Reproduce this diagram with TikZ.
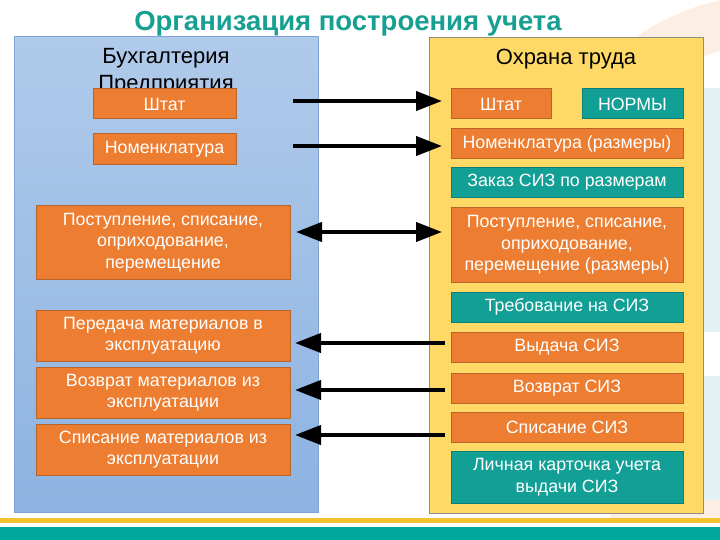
\documentclass[tikz,border=0pt]{standalone}
\usepackage{fontspec}
\setmainfont{Liberation Sans}
\usetikzlibrary{arrows.meta}
\definecolor{boxor}{HTML}{ED7D31}
\definecolor{boxorb}{HTML}{B8652B}
\definecolor{boxte}{HTML}{12A096}
\definecolor{boxteb}{HTML}{0E7F78}
\definecolor{titlete}{HTML}{17A092}
\definecolor{bluetop}{HTML}{B0CAEA}
\definecolor{bluebot}{HTML}{8DB3E2}
\definecolor{blueb}{HTML}{7FA3D3}
\definecolor{yell}{HTML}{FFD966}
\definecolor{yellb}{HTML}{8E8E82}
\definecolor{band}{HTML}{00A79D}
\definecolor{bandy}{HTML}{F2C230}
\definecolor{peach}{HTML}{FCEEE2}
\definecolor{lcyan}{HTML}{E2F2F4}
\tikzset{
  box/.style={draw, line width=1pt, text=white, align=center, inner sep=0pt,
    font=\fontsize{17.8}{21.5}\selectfont},
  obox/.style={box, fill=boxor, draw=boxorb},
  tbox/.style={box, fill=boxte, draw=boxteb},
  arr/.style={line width=4pt, -{Triangle[length=26pt,width=19pt]}},
  darr/.style={line width=4pt, {Triangle[length=26pt,width=19pt]}-{Triangle[length=26pt,width=19pt]}},
  ptitle/.style={font=\fontsize{22}{27}\selectfont, align=center, inner sep=0pt}
}
\begin{document}
\begin{tikzpicture}[x=1pt,y=-1pt]
\useasboundingbox (0,0) rectangle (720,540);
\fill[white] (0,0) rectangle (720,540);
% background decorations
\begin{scope}
\clip (0,0) rectangle (720,540);
\fill[peach, even odd rule] (770,230) circle[radius=235] (770,250) circle[radius=205];
\fill[lcyan] (690,88) rectangle (720,332);
\fill[lcyan] (690,376) rectangle (720,505);
\fill[peach] (610,500) rectangle (720,518);
\end{scope}
% bottom bands
\fill[bandy] (0,518) rectangle (720,523);
\fill[band] (0,527) rectangle (720,540);
% title
\node[font=\fontsize{27.5}{32}\selectfont\bfseries, text=titlete, inner sep=0pt] (title) at (348,24) {Организация построения учета};
% panels
\node[draw=blueb, line width=1pt, top color=bluetop, bottom color=bluebot, minimum width=304pt, minimum height=475pt, inner sep=0pt] (lp) at (166,274.5) {};
\node[draw=yellb, line width=1pt, fill=yell, minimum width=274pt, minimum height=476pt, inner sep=0pt] (rp) at (566,275.5) {};
\node[ptitle, anchor=north] (lpt) at (166,48) {Бухгалтерия\\Предприятия};
\node[ptitle] (rpt) at (566,59) {Охрана труда};
% left boxes
\node[obox, minimum width=143pt, minimum height=30pt] (lshtat) at (164.5,104) {Штат};
\node[obox, minimum width=143pt, minimum height=31pt] (lnom) at (164.5,149.5) {Номенклатура};
\node[obox, minimum width=254pt, minimum height=73pt] (lpost) at (163,242.5) {Поступление, списание,\\оприходование,\\перемещение};
\node[obox, minimum width=254pt, minimum height=51pt] (lper) at (163,335.5) {Передача материалов в\\эксплуатацию};
\node[obox, minimum width=254pt, minimum height=51pt] (lvoz) at (163,392.5) {Возврат материалов из\\эксплуатации};
\node[obox, minimum width=254pt, minimum height=51pt] (lspis) at (163,449.5) {Списание материалов из\\эксплуатации};
% right boxes
\node[obox, minimum width=100pt, minimum height=30pt] (rshtat) at (501,104) {Штат};
\node[tbox, minimum width=101pt, minimum height=30pt] (rnorm) at (632.5,104) {НОРМЫ};
\node[obox, minimum width=232pt, minimum height=30pt] (rnom) at (567,144) {Номенклатура (размеры)};
\node[tbox, minimum width=232pt, minimum height=30pt] (rzak) at (567,182.5) {Заказ СИЗ по размерам};
\node[obox, minimum width=232pt, minimum height=74pt] (rpost) at (567,245) {Поступление, списание,\\оприходование,\\перемещение (размеры)};
\node[tbox, minimum width=232pt, minimum height=30pt] (rtreb) at (567,307) {Требование на СИЗ};
\node[obox, minimum width=232pt, minimum height=30pt] (rvyd) at (567,347) {Выдача СИЗ};
\node[obox, minimum width=232pt, minimum height=30pt] (rvoz) at (567,388) {Возврат СИЗ};
\node[obox, minimum width=232pt, minimum height=30pt] (rspis) at (567,427) {Списание СИЗ};
\node[tbox, minimum width=232pt, minimum height=52pt] (rlich) at (567,477) {Личная карточка учета\\выдачи СИЗ};
% arrow ends
\coordinate (a1s) at (293,101); \coordinate (a1e) at (442,101);
\coordinate (a2s) at (293,146); \coordinate (a2e) at (442,146);
\coordinate (a3s) at (296,232); \coordinate (a3e) at (442,232);
\coordinate (a4s) at (445,343); \coordinate (a4e) at (295,343);
\coordinate (a5s) at (445,390); \coordinate (a5e) at (295,390);
\coordinate (a6s) at (445,435); \coordinate (a6e) at (295,435);
\draw[arr] (a1s) -- (a1e);
\draw[arr] (a2s) -- (a2e);
\draw[darr] (a3s) -- (a3e);
\draw[arr] (a4s) -- (a4e);
\draw[arr] (a5s) -- (a5e);
\draw[arr] (a6s) -- (a6e);
\end{tikzpicture}
\end{document}
